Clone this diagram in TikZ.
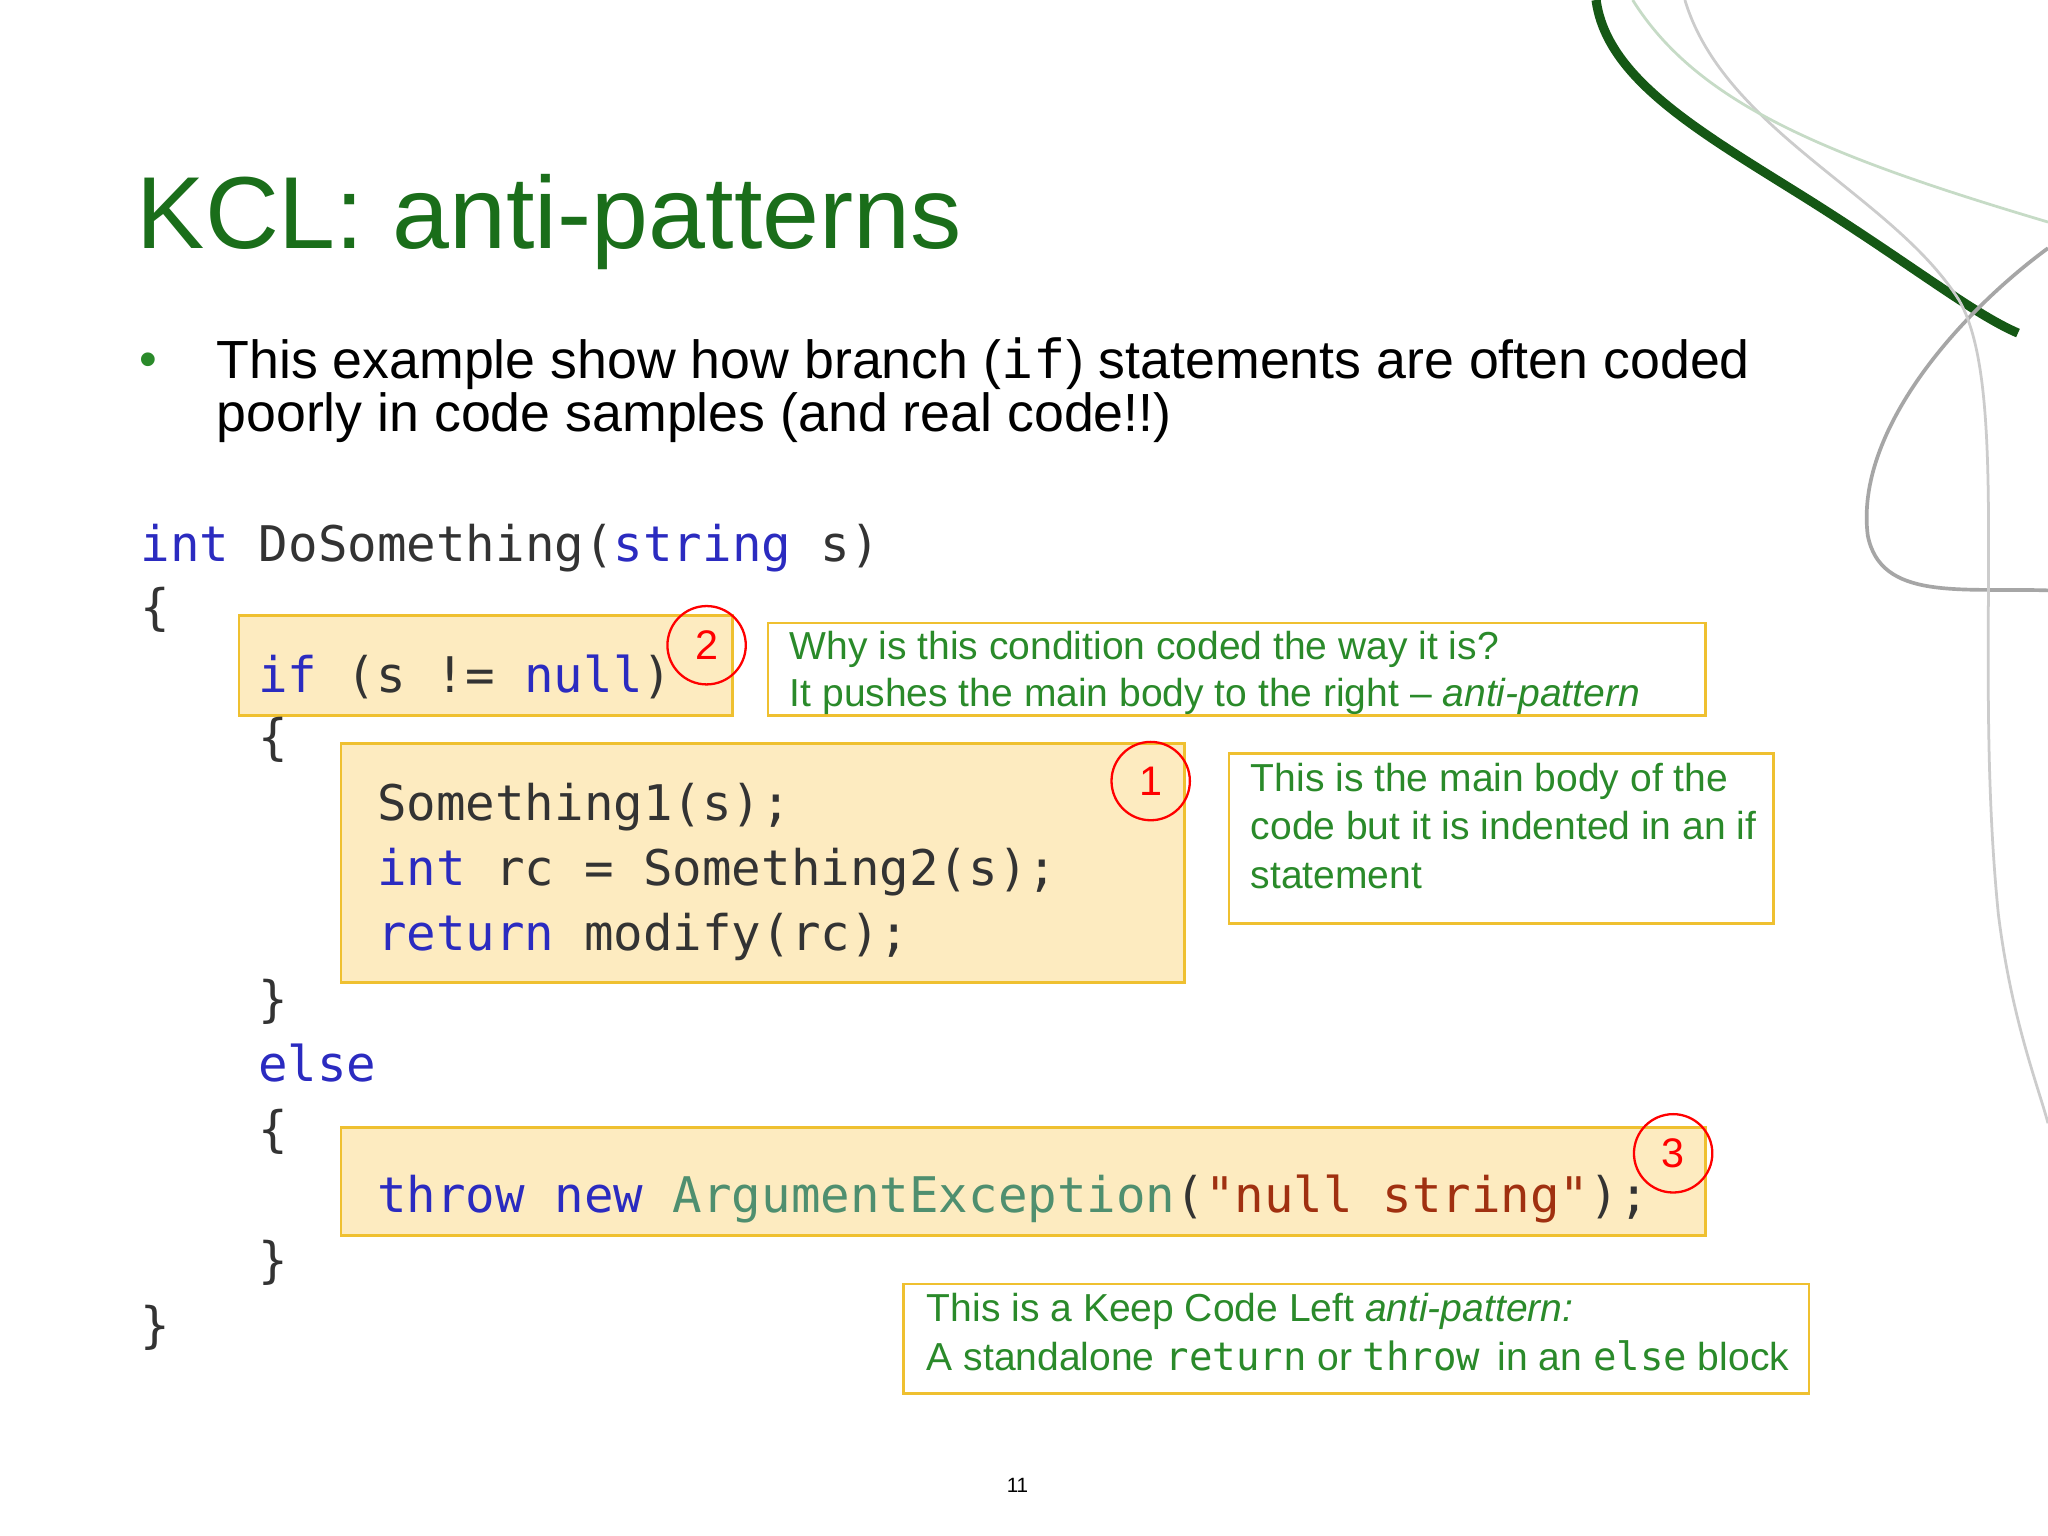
\documentclass[tikz,border=0pt]{standalone}
\usepackage{fontspec}
\setmainfont{Liberation Sans}
\newfontfamily\codefont{DejaVu Sans Mono}
\definecolor{ttl}{HTML}{1A6E1A}
\definecolor{kw}{HTML}{2B2BC0}
\definecolor{cd}{HTML}{333333}
\definecolor{bxf}{HTML}{FDEBC0}
\definecolor{bxd}{HTML}{EFC030}
\definecolor{gtx}{HTML}{2A8A2A}
\definecolor{cls}{HTML}{4F8F6F}
\definecolor{strc}{HTML}{A03010}
\tikzset{
 code/.style={anchor=base west,inner sep=0,font=\codefont\fontsize{10.7pt}{12pt}\selectfont,text=cd},
 hbox/.style={draw=bxd,fill=bxf,line width=0.6pt},
 cbox/.style={draw=bxd,line width=0.6pt},
 ctext/.style={anchor=base west,inner sep=0,text=gtx,font=\fontsize{8.5pt}{10pt}\selectfont},
 btext/.style={anchor=base west,inner sep=0,font=\fontsize{11.7pt}{13pt}\selectfont},
 num/.style={circle,draw=red,text=red,minimum size=6mm,inner sep=0,font=\fontsize{9pt}{9pt}\selectfont,line width=0.5pt}
}
\newcommand{\kw}[1]{\textcolor{kw}{#1}}
\begin{document}
\begin{tikzpicture}[x=0.1mm,y=-0.1mm]
\useasboundingbox[fill=white] (0,0) rectangle (1568,1176);
% decorative curves
\draw[ttl!80!black,line width=2pt] (1222,0) .. controls (1230,60) and (1300,100) .. (1380,150) .. controls (1460,200) and (1510,240) .. (1545,255);
\draw[gray!70,line width=0.8pt] (1568,190) .. controls (1500,240) and (1420,330) .. (1430,410) .. controls (1440,460) and (1500,450) .. (1568,452);
\draw[gray!40,line width=0.6pt] (1290,0) .. controls (1320,100) and (1450,150) .. (1500,230) .. controls (1540,300) and (1510,500) .. (1530,700) .. controls (1540,780) and (1560,830) .. (1568,860);
\draw[ttl!25,line width=0.6pt] (1250,0) .. controls (1300,80) and (1400,120) .. (1568,170);
% title
\node[anchor=base west,inner sep=0,text=ttl,font=\fontsize{22.3pt}{27pt}\selectfont] (title) at (104,190) {KCL: anti-patterns};
\node[anchor=base west,inner sep=0,text=gtx,font=\fontsize{11pt}{13pt}\selectfont] (bul) at (106,288) {•};
\node[btext] (t1) at (165,290) {This example show how branch ({\codefont if}) statements are often coded};
\node[btext] (t2) at (165,330) {poorly in code samples (and real code!!)};
% highlight boxes
\draw[hbox] (183,471) rectangle (561,548);
\draw[hbox] (261,569) rectangle (907,752);
\draw[hbox] (261,863) rectangle (1306,946);
% code
\node[code] (l1) at (107,430) {\kw{int} DoSomething(\kw{string} s)};
\node[code] (l2) at (107,478) {\{};
\node[code] (l3) at (197,530) {\kw{if} (s != \kw{null})};
\node[code] (l4) at (197,578) {\{};
\node[code] (l5) at (288,628) {Something1(s);};
\node[code] (l6) at (288,678) {\kw{int} rc = Something2(s);};
\node[code] (l7) at (288,728) {\kw{return} modify(rc);};
\node[code] (l8) at (197,778) {\}};
\node[code] (l9) at (197,828) {\kw{else}};
\node[code] (l10) at (197,878) {\{};
\node[code] (l11) at (288,928) {\kw{throw} \kw{new} \textcolor{cls}{ArgumentException}(\textcolor{strc}{"null string"});};
\node[code] (l12) at (197,978) {\}};
\node[code] (l13) at (107,1028) {\}};
% numbers
\node[num] (n2) at (541,494) {2};
\node[num] (n1) at (881,598) {1};
\node[num] (n3) at (1281,883) {3};
% callouts
\draw[cbox] (588,477) rectangle (1306,548);
\node[ctext] (c1a) at (604,505) {Why is this condition coded the way it is?};
\node[ctext] (c1b) at (604,541) {It pushes the main body to the right -- \textit{anti-pattern}};
\draw[cbox] (941,577) rectangle (1358,707);
\node[ctext] (c2a) at (957,606) {This is the main body of the};
\node[ctext] (c2b) at (957,643) {code but it is indented in an if};
\node[ctext] (c2c) at (957,680) {statement};
\draw[cbox] (692,983) rectangle (1385,1067);
\node[ctext] (c3a) at (709,1012) {This is a Keep Code Left \textit{anti-pattern:}};
\node[ctext] (c3b) at (709,1049) {A standalone {\codefont return} or {\codefont throw}\, in an {\codefont else} block};
\node[anchor=base,inner sep=0,font=\fontsize{4.5pt}{5pt}\selectfont] (pg) at (779,1143) {11};
\end{tikzpicture}
\end{document}
